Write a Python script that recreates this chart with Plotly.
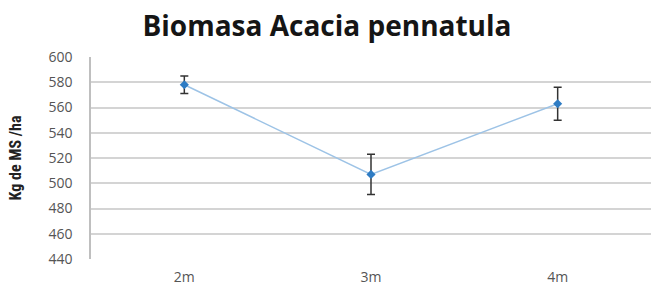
import plotly.graph_objects as go

categories = ["2m", "3m", "4m"]
biomasa = [578, 507, 563]
error = [7, 16, 13]
y_ticks = [440, 460, 480, 500, 520, 540, 560, 580, 600]

fig = go.Figure()
fig.add_trace(go.Scatter(
    x=categories, y=biomasa,
    mode="lines+markers",
    line=dict(color="#9DC3E6", width=1.5),
    marker=dict(symbol="diamond", size=7, color="#2E7CC4"),
    error_y=dict(type="data", array=error, visible=True, color="#333333", thickness=1.5, width=4),
    showlegend=False,
))

fig.update_layout(
    width=651, height=288,
    margin=dict(l=91, r=0, t=57, b=29),
    paper_bgcolor="white", plot_bgcolor="white",
    title=dict(text="<b>Biomasa Acacia pennatula</b>", x=327 / 651, xanchor="center",
               y=1 - 26 / 288, yanchor="middle",
               font=dict(family="Open Sans", size=28, color="#151515")),
    font=dict(family="Open Sans", color="#555555"),
)
fig.update_xaxes(
    type="category", range=[-0.5, 2.5], showgrid=False, showline=False, ticks="",
    tickfont=dict(size=14, color="#555555"), ticklabelstandoff=8,
)
fig.update_yaxes(
    range=[440, 600], tickvals=y_ticks, showgrid=True, gridcolor="#D4D4D4", gridwidth=1.5,
    showline=True, linecolor="#BFBFBF", linewidth=1.5, ticks="",
    zeroline=False, ticklabelstandoff=14,
    tickfont=dict(size=14, color="#555555"),
    title=dict(text="<b>Kg de MS /ha</b>", font=dict(family="Liberation Sans Narrow, Roboto Condensed, Liberation Sans", size=16, color="#222222"), standoff=23),
)
fig.write_html(
    "out.html",
    config={"displayModeBar": False},
    post_script=("document.body.style.margin='0';document.body.style.overflow='hidden';"
                 "document.documentElement.style.overflow='hidden';"),
)
